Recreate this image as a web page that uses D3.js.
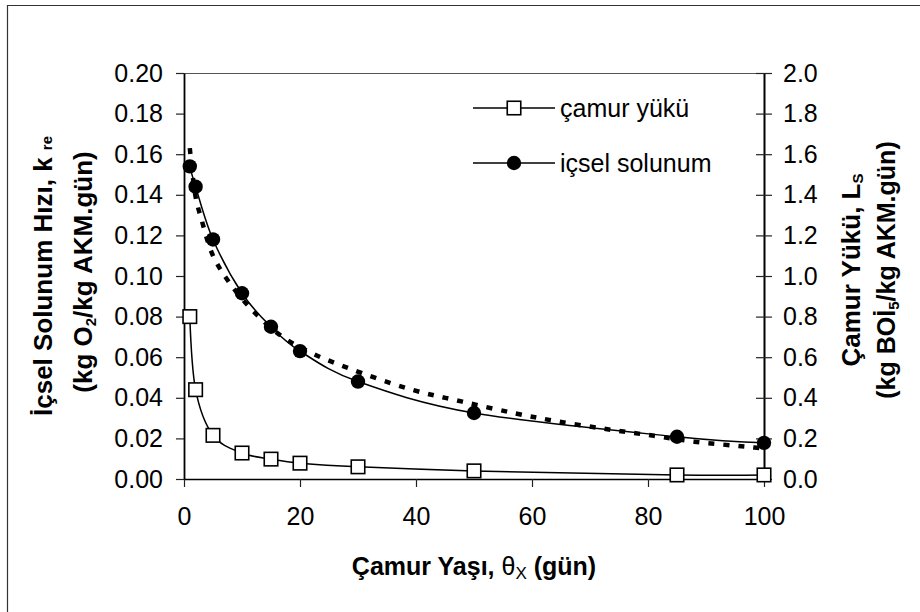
<!DOCTYPE html>
<html>
<head>
<meta charset="utf-8">
<script src="https://cdn.jsdelivr.net/npm/d3@7"></script>
<style>
  html, body { margin: 0; padding: 0; background: #fff; }
  svg { display: block; }
  text { font-family: "Liberation Sans", Arial, sans-serif; fill: #000; }
</style>
</head>
<body>
<svg id="chart" width="920" height="612"></svg>
<script>
// ---- data ----
const sludgeAge = [1, 2, 5, 10, 15, 20, 30, 50, 85, 100];           // θx (gün)
const camurYuku = [0.80, 0.44, 0.215, 0.128, 0.098, 0.078, 0.060, 0.040, 0.020, 0.020]; // Ls, right axis
const icselSolunum = [0.154, 0.144, 0.118, 0.0915, 0.075, 0.063, 0.048, 0.0325, 0.0208, 0.0178]; // k_re, left axis
const modelAge = [1, 2, 3, 5, 8, 12, 17, 22, 28, 39, 48, 57, 64, 73, 81, 88, 98, 100];
const modelKre = [0.163, 0.139, 0.128, 0.110, 0.096, 0.0825, 0.070, 0.062, 0.055, 0.0442, 0.0381, 0.0324, 0.0286, 0.0245, 0.0213, 0.0184, 0.0156, 0.0150];
const xTicks = [0, 20, 40, 60, 80, 100];
const leftTicks = [0, 0.02, 0.04, 0.06, 0.08, 0.10, 0.12, 0.14, 0.16, 0.18, 0.20];
const rightTicks = [0, 0.2, 0.4, 0.6, 0.8, 1.0, 1.2, 1.4, 1.6, 1.8, 2.0];
const legendLabels = ["çamur yükü", "içsel solunum"];

const svg = d3.select("#chart");
const W = 920, H = 612;
const plot = { left: 184, right: 764, top: 73, bottom: 479 };
const FONT = '"Liberation Sans", Arial, sans-serif';

svg.append("rect").attr("width", W).attr("height", H).attr("fill", "#fff");

// outer frame (only left and top edges are visible)
svg.append("path").attr("d", `M7.5,${H} V5.5 H${W}`).attr("fill", "none")
  .attr("stroke", "#333").attr("stroke-width", 1.2);

const x = d3.scaleLinear().domain([0, 100]).range([plot.left, plot.right]);
const yL = d3.scaleLinear().domain([0, 0.2]).range([plot.bottom, plot.top]);
const yR = d3.scaleLinear().domain([0, 2]).range([plot.bottom, plot.top]);

// top border of plot area
svg.append("line").attr("x1", plot.left).attr("x2", plot.right)
  .attr("y1", plot.top + 0.5).attr("y2", plot.top + 0.5)
  .attr("stroke", "#555").attr("stroke-width", 1);

// axes
const gx = svg.append("g").attr("transform", `translate(0,${plot.bottom})`)
  .call(d3.axisBottom(x).tickValues(xTicks).tickSize(8).tickSizeOuter(0).tickPadding(20).tickFormat(d3.format("d")));
const gl = svg.append("g").attr("transform", `translate(${plot.left},0)`)
  .call(d3.axisLeft(yL).tickValues(leftTicks).tickSize(8).tickSizeOuter(0).tickPadding(13).tickFormat(d3.format(".2f")));
const gr = svg.append("g").attr("transform", `translate(${plot.right},0)`)
  .call(d3.axisRight(yR).tickValues(rightTicks).tickSize(8).tickSizeOuter(0).tickPadding(11).tickFormat(d3.format(".1f")));

[gx, gl, gr].forEach(g => {
  g.attr("font-size", 25).attr("font-family", FONT);
  g.selectAll("text").attr("fill", "#000");
  g.selectAll(".tick line").attr("stroke", "#222").attr("stroke-width", 1.2);
});
gx.select(".domain").attr("stroke", "#000").attr("stroke-width", 1.5);
gl.select(".domain").attr("stroke", "#000").attr("stroke-width", 1.8);
gr.select(".domain").attr("stroke", "#000").attr("stroke-width", 2);
gr.selectAll(".tick line").attr("x1", -8).attr("x2", 8);

// series lines
const smooth = d3.curveCardinal.tension(0);
const lineR = d3.line().x(d => x(d[0])).y(d => yR(d[1])).curve(smooth);
const lineL = d3.line().x(d => x(d[0])).y(d => yL(d[1])).curve(smooth);
const lineModel = d3.line().x(d => x(d[0])).y(d => yL(d[1])).curve(d3.curveCatmullRom.alpha(0.5));

const loadPts = sludgeAge.map((a, i) => [a, camurYuku[i]]);
const respPts = sludgeAge.map((a, i) => [a, icselSolunum[i]]);
const modelPts = modelAge.map((a, i) => [a, modelKre[i]]);

svg.append("path").datum(modelPts).attr("d", lineModel)
  .attr("fill", "none").attr("stroke", "#000").attr("stroke-width", 4.5)
  .attr("stroke-dasharray", "6,9");

svg.append("path").datum(loadPts).attr("d", lineR)
  .attr("fill", "none").attr("stroke", "#000").attr("stroke-width", 1.5);
svg.append("path").datum(respPts).attr("d", lineL)
  .attr("fill", "none").attr("stroke", "#000").attr("stroke-width", 1.5);

const SQ = 13.5, R = 7.2;
svg.selectAll("rect.sq").data(loadPts).enter().append("rect").attr("class", "sq")
  .attr("x", d => x(d[0]) - SQ / 2).attr("y", d => yR(d[1]) - SQ / 2)
  .attr("width", SQ).attr("height", SQ)
  .attr("fill", "#fff").attr("stroke", "#000").attr("stroke-width", 1.6);
svg.selectAll("circle.pt").data(respPts).enter().append("circle").attr("class", "pt")
  .attr("cx", d => x(d[0])).attr("cy", d => yL(d[1])).attr("r", R).attr("fill", "#000");

// legend
const leg = svg.append("g");
const legY = [108, 163];
legY.forEach((ly, i) => {
  leg.append("line").attr("x1", 473).attr("x2", 555).attr("y1", ly).attr("y2", ly)
    .attr("stroke", "#000").attr("stroke-width", 1.5);
  if (i === 0) {
    leg.append("rect").attr("x", 514 - SQ / 2).attr("y", ly - SQ / 2).attr("width", SQ).attr("height", SQ)
      .attr("fill", "#fff").attr("stroke", "#000").attr("stroke-width", 1.6);
  } else {
    leg.append("circle").attr("cx", 514).attr("cy", ly).attr("r", R).attr("fill", "#000");
  }
  leg.append("text").attr("x", 560).attr("y", ly + 8.5).attr("font-size", 25).text(legendLabels[i]);
});

// x-axis title
const xt = svg.append("text").attr("x", (plot.left + plot.right) / 2).attr("y", 575)
  .attr("text-anchor", "middle").attr("font-size", 25).attr("font-weight", "bold");
xt.append("tspan").text("Çamur Yaşı, ");
xt.append("tspan").attr("font-weight", "normal").text("θ");
xt.append("tspan").attr("font-weight", "normal").attr("font-size", 17).attr("dy", 4).text("X");
xt.append("tspan").attr("dy", -4).text(" (gün)");

// left axis titles
const cyL = (plot.top + plot.bottom) / 2;
const lt1 = svg.append("text").attr("transform", `translate(52,${cyL}) rotate(-90)`)
  .attr("text-anchor", "middle").attr("font-size", 26).attr("font-weight", "bold");
lt1.append("tspan").text("İçsel Solunum Hızı, k ");
lt1.append("tspan").attr("font-size", 15).text("re");
const lt2 = svg.append("text").attr("transform", `translate(92,${cyL - 4}) rotate(-90)`)
  .attr("text-anchor", "middle").attr("font-size", 26).attr("font-weight", "bold");
lt2.append("tspan").text("(kg O");
lt2.append("tspan").attr("font-size", 15).attr("dy", 4).text("2");
lt2.append("tspan").attr("dy", -4).text("/kg AKM.gün)");

// right axis titles
const rt1 = svg.append("text").attr("transform", `translate(860,${cyL - 6}) rotate(-90)`)
  .attr("text-anchor", "middle").attr("font-size", 26).attr("font-weight", "bold");
rt1.append("tspan").text("Çamur Yükü, L");
rt1.append("tspan").attr("font-size", 15).attr("dy", 3).text("S");
const rt2 = svg.append("text").attr("transform", `translate(895,${cyL - 6}) rotate(-90)`)
  .attr("text-anchor", "middle").attr("font-size", 25).attr("font-weight", "bold");
rt2.append("tspan").text("(kg BOİ");
rt2.append("tspan").attr("font-size", 15).attr("dy", 4).text("5");
rt2.append("tspan").attr("dy", -4).text("/kg AKM.gün)");
</script>
</body>
</html>
